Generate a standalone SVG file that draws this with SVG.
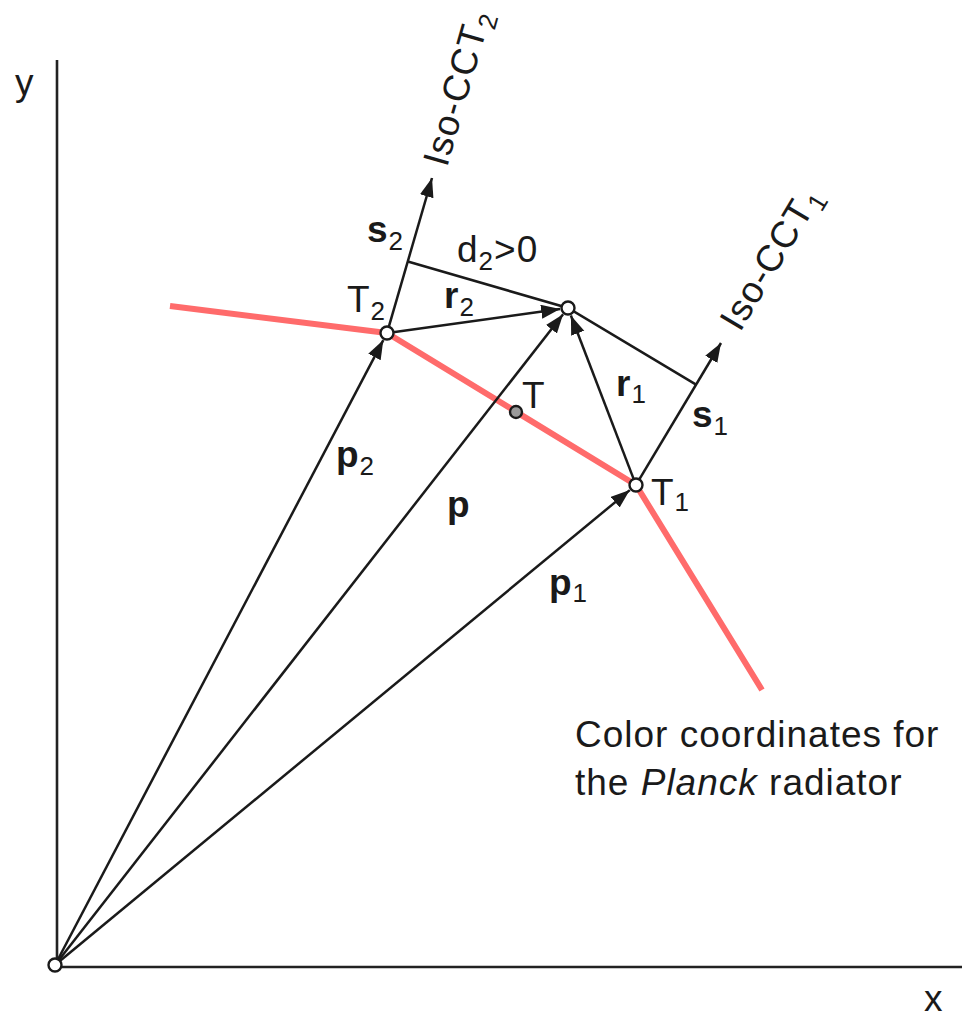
<svg xmlns="http://www.w3.org/2000/svg" width="965" height="1017" viewBox="0 0 965 1017">
<defs>
<style>
.ax{stroke:#222;stroke-width:2.6;fill:none}
.ln{stroke:#1a1a1a;stroke-width:2.5;fill:none}
.vec{stroke:#1a1a1a;stroke-width:2.5;fill:none;marker-end:url(#ah)}
.planck{stroke:#ff6b6b;stroke-width:6;fill:none;stroke-linejoin:round}
.pt{fill:#fff;stroke:#1a1a1a;stroke-width:2.4}
.ptg{fill:#9a9a9a;stroke:#1a1a1a;stroke-width:2.4}
text{font-family:"Liberation Sans",Arial,sans-serif;font-size:37px;fill:#1a1a1a;letter-spacing:1px}
.b{font-weight:bold}
.sub{font-size:26px;font-weight:normal}
</style>
<marker id="ah" markerUnits="userSpaceOnUse" markerWidth="22" markerHeight="16" refX="19" refY="7" orient="auto">
<path d="M0,0 L19,7 L0,14 Z" fill="#1a1a1a"/>
</marker>
</defs>
<g id="axes">
<line class="ax" x1="57" y1="60" x2="57" y2="958"/>
<line class="ax" x1="62" y1="967" x2="962" y2="967"/>
<text x="15" y="95">y</text>
<text x="924" y="1011">x</text>
</g>
<g id="planck-curve">
<polyline class="planck" points="170,306 387,333 636,485 762,690"/>
</g>
<g id="connectors">
<line class="vec" x1="55" y1="965" x2="383.3" y2="340.1"/>
<line class="vec" x1="55" y1="965" x2="563.1" y2="314.3"/>
<line class="vec" x1="55" y1="965" x2="629.8" y2="490.1"/>
<line class="vec" x1="393" y1="332.2" x2="560.1" y2="309.1"/>
<line class="vec" x1="633.8" y1="479.4" x2="570.9" y2="315.5"/>
<line class="vec" x1="388.7" y1="327.2" x2="432" y2="178"/>
<line class="vec" x1="639" y1="479.8" x2="721" y2="343"/>
<polyline class="ln" points="407.8,261.5 568,308 696.1,384.6"/>
</g>
<g id="origin"><circle class="pt" cx="55" cy="965" r="6.5"/></g>
<g id="T2"><circle class="pt" cx="387" cy="333" r="6.5"/>
<text x="347" y="312">T<tspan class="sub" dy="8">2</tspan></text></g>
<g id="T1"><circle class="pt" cx="636" cy="485" r="6.5"/>
<text x="651" y="505">T<tspan class="sub" dy="6">1</tspan></text></g>
<g id="P"><circle class="pt" cx="568" cy="308" r="6.5"/></g>
<g id="T"><circle class="ptg" cx="516" cy="412" r="6"/>
<text x="522" y="408">T</text></g>
<g id="labels">
<text x="367" y="242"><tspan class="b">s</tspan><tspan class="sub" dy="8">2</tspan></text>
<text x="457" y="262">d<tspan class="sub" dy="8">2</tspan><tspan dy="-8">&gt;0</tspan></text>
<text x="444" y="308"><tspan class="b">r</tspan><tspan class="sub" dy="8">2</tspan></text>
<text x="616" y="396"><tspan class="b">r</tspan><tspan class="sub" dy="7">1</tspan></text>
<text x="692" y="427"><tspan class="b">s</tspan><tspan class="sub" dy="8">1</tspan></text>
<text x="336" y="467"><tspan class="b">p</tspan><tspan class="sub" dy="8">2</tspan></text>
<text x="447" y="517" class="b">p</text>
<text x="549" y="595"><tspan class="b">p</tspan><tspan class="sub" dy="7">1</tspan></text>
<text transform="translate(447,168) rotate(-74)">Iso-CCT<tspan class="sub" dy="8">2</tspan></text>
<text transform="translate(740,333) rotate(-59)">Iso-CCT<tspan class="sub" dy="8">1</tspan></text>
<text x="575" y="747">Color coordinates for</text>
<text x="575" y="795">the <tspan font-style="italic">Planck</tspan> radiator</text>
</g>
</svg>
